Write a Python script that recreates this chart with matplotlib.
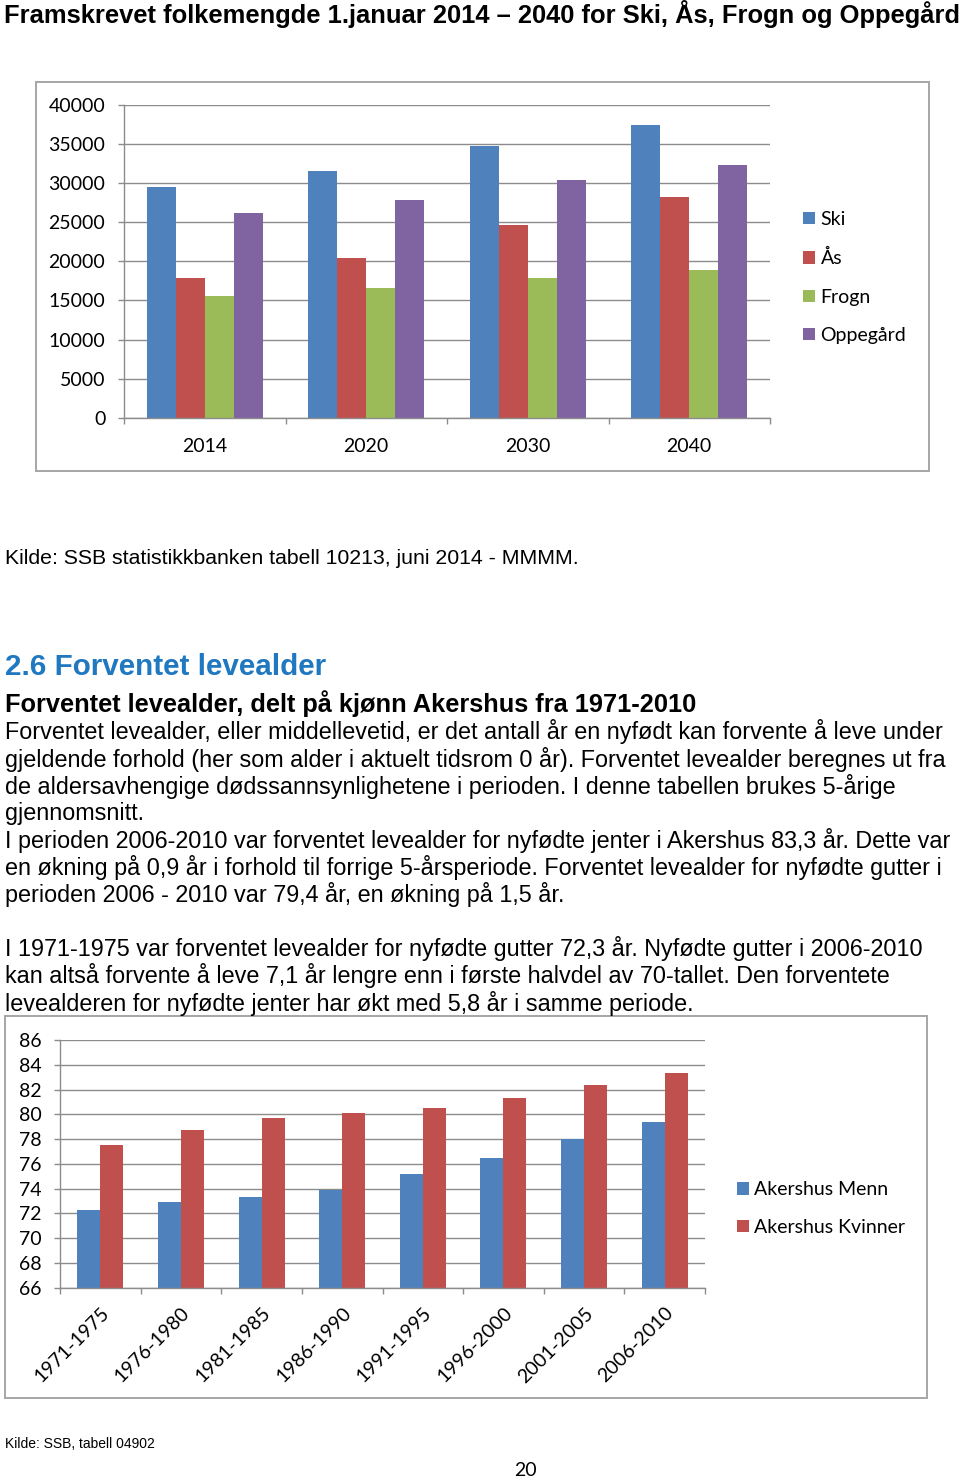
import matplotlib
matplotlib.use("Agg")
import matplotlib.pyplot as plt
from matplotlib.patches import Rectangle, Patch
import numpy as np

# data chart 1 - projected population
years = ["2014", "2020", "2030", "2040"]
ski = [29500, 31500, 34800, 37400]
aas = [17900, 20400, 24600, 28200]
frogn = [15600, 16550, 17900, 18900]
oppegard = [26200, 27800, 30400, 32300]
kommuner = ["Ski", "Ås", "Frogn", "Oppegård"]

# data chart 2 - life expectancy Akershus
periods = ["1971-1975", "1976-1980", "1981-1985", "1986-1990",
           "1991-1995", "1996-2000", "2001-2005", "2006-2010"]
menn = [72.3, 72.9, 73.3, 73.9, 75.2, 76.5, 78.0, 79.4]
kvinner = [77.5, 78.7, 79.7, 80.1, 80.5, 81.3, 82.4, 83.3]

colors = ["#4F81BD", "#C0504D", "#9BBB59", "#8064A2"]
grid_col = "#8C8C8C"
chart_font = "Lato"
text_font = "Liberation Sans"

W, H = 960, 1481
fig = plt.figure(figsize=(W / 100, H / 100), dpi=100)


def fx(x):
    return x / W


def fy(y):
    return 1 - y / H


def frame(x0, y0, x1, y1):
    r = Rectangle((fx(x0), fy(y1)), fx(x1) - fx(x0), fy(y0) - fy(y1),
                  transform=fig.transFigure, fill=False,
                  edgecolor="#A6A6A6", linewidth=1.4)
    fig.patches.append(r)


def style_axes(ax):
    for s in ["top", "right"]:
        ax.spines[s].set_visible(False)
    for s in ["left", "bottom"]:
        ax.spines[s].set_color(grid_col)
        ax.spines[s].set_linewidth(1.0)
    ax.set_axisbelow(True)
    ax.yaxis.grid(True, color=grid_col, linewidth=1.0)
    ax.tick_params(axis="y", length=4.5, width=1.0, color=grid_col, pad=9,
                   labelsize=14)
    ax.tick_params(axis="x", which="major", length=0, labelsize=14)
    ax.tick_params(axis="x", which="minor", length=4.5, width=1.0, color=grid_col)
    for lab in ax.get_xticklabels() + ax.get_yticklabels():
        lab.set_fontfamily(chart_font)


# --- texts ---
fig.text(fx(4), fy(14), "Framskrevet folkemengde 1.januar 2014 \u2013 2040 for Ski, Ås, Frogn og Oppegård",
         fontfamily=text_font, fontweight="bold", fontsize=18.35, va="center", ha="left")

fig.text(fx(5), fy(558), "Kilde: SSB statistikkbanken tabell 10213, juni 2014 - MMMM.",
         fontfamily=text_font, fontsize=15.3, va="center", ha="left")

fig.text(fx(5), fy(667), "2.6 Forventet levealder", fontfamily=text_font,
         fontweight="bold", fontsize=21.3, color="#1F78C0", va="center", ha="left")
fig.text(fx(5), fy(704), "Forventet levealder, delt på kjønn Akershus fra 1971-2010",
         fontfamily=text_font, fontweight="bold", fontsize=18.3, va="center", ha="left")

body = [
    "Forventet levealder, eller middellevetid, er det antall år en nyfødt kan forvente å leve under",
    "gjeldende forhold (her som alder i aktuelt tidsrom 0 år). Forventet levealder beregnes ut fra",
    "de aldersavhengige dødssannsynlighetene i perioden. I denne tabellen brukes 5-årige",
    "gjennomsnitt.",
    "I perioden 2006-2010 var forventet levealder for nyfødte jenter i Akershus 83,3 år. Dette var",
    "en økning på 0,9 år i forhold til forrige 5-årsperiode. Forventet levealder for nyfødte gutter i",
    "perioden 2006 - 2010 var 79,4 år, en økning på 1,5 år.",
    "",
    "I 1971-1975 var forventet levealder for nyfødte gutter 72,3 år. Nyfødte gutter i 2006-2010",
    "kan altså forvente å leve 7,1 år lengre enn i første halvdel av 70-tallet. Den forventete",
    "levealderen for nyfødte jenter har økt med 5,8 år i samme periode.",
]
for i, line in enumerate(body):
    fig.text(fx(5), fy(732 + i * 27.1), line, fontfamily=text_font,
             fontsize=16.8, va="center", ha="left")

fig.text(fx(5), fy(1444), "Kilde: SSB, tabell 04902", fontfamily=text_font,
         fontsize=10, va="center", ha="left")
fig.text(fx(525), fy(1471), "20", fontfamily=chart_font, fontsize=14,
         va="center", ha="center")

# --- chart 1 ---
frame(36, 82, 929, 471)
ax1 = fig.add_axes([fx(124), fy(417.7), fx(770) - fx(124), fy(105) - fy(417.7)])
x = np.arange(len(years))
w = 0.18
series = [ski, aas, frogn, oppegard]
for k, vals in enumerate(series):
    ax1.bar(x + (k - 1.5) * w, vals, width=w, color=colors[k], label=kommuner[k])
ax1.set_xlim(-0.5, len(years) - 0.5)
ax1.set_ylim(0, 40000)
ax1.set_yticks(np.arange(0, 40001, 5000))
ax1.set_xticks(x)
ax1.set_xticklabels(years)
ax1.set_xticks(np.arange(-0.5, len(years), 1.0), minor=True)
style_axes(ax1)
ax1.tick_params(axis="x", which="major", pad=14.5)

handles1 = [Patch(facecolor=c, edgecolor="none") for c in colors]
leg1 = fig.legend(handles1, kommuner, loc="center left",
                  bbox_to_anchor=(fx(803), fy(277.5)), frameon=False,
                  prop={"family": chart_font, "size": 14},
                  handlelength=0.6, handleheight=0.6, handletextpad=0.3,
                  labelspacing=1.1, borderpad=0, borderaxespad=0)

# --- chart 2 ---
frame(5, 1016, 927, 1398)
ax2 = fig.add_axes([fx(60), fy(1287.7), fx(705) - fx(60), fy(1040) - fy(1287.7)])
x2 = np.arange(len(periods))
w2 = 0.285
ax2.bar(x2 - w2 / 2, menn, width=w2, color=colors[0], label="Akershus Menn")
ax2.bar(x2 + w2 / 2, kvinner, width=w2, color=colors[1], label="Akershus Kvinner")
ax2.set_xlim(-0.5, len(periods) - 0.5)
ax2.set_ylim(66, 86)
ax2.set_yticks(np.arange(66, 87, 2))
ax2.set_xticks(x2)
ax2.set_xticklabels(periods, rotation=45, ha="right", va="top",
                    rotation_mode="anchor")
ax2.set_xticks(np.arange(-0.5, len(periods), 1.0), minor=True)
style_axes(ax2)
ax2.tick_params(axis="x", which="major", pad=12)

handles2 = [Patch(facecolor=colors[0], edgecolor="none"),
            Patch(facecolor=colors[1], edgecolor="none")]
leg2 = fig.legend(handles2, ["Akershus Menn", "Akershus Kvinner"], loc="center left",
                  bbox_to_anchor=(fx(737), fy(1208.5)), frameon=False,
                  prop={"family": chart_font, "size": 14},
                  handlelength=0.6, handleheight=0.6, handletextpad=0.3,
                  labelspacing=1.05, borderpad=0, borderaxespad=0)

fig.savefig("out.png", dpi=100)
